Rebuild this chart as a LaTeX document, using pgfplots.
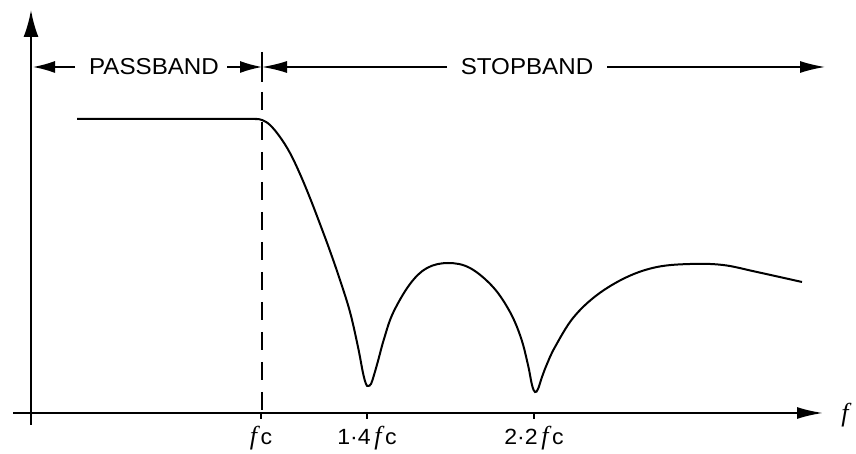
\documentclass[border=0pt]{standalone}
\usepackage{fontspec}
\setmainfont{Liberation Sans}[FakeStretch=1.05]
\newfontfamily\ffont{Liberation Serif}
\newcommand{\fq}{{\ffont\itshape\fontsize{26}{30}\selectfont f}}
\usepackage{pgfplots}
\pgfplotsset{compat=1.18}
\usetikzlibrary{arrows.meta}

\begin{document}
\begin{tikzpicture}
\begin{axis}[
    scale only axis,
    width=856pt, height=454pt,
    xmin=-31, xmax=825,
    ymin=-41, ymax=413,
    axis lines=middle,
    clip=false,
    xtick={230,336,503},
    xticklabels={\fq\,c, 1·4\,\fq\,c, 2·2\,\fq\,c},
    ytick=\empty,
    tick align=outside,
    major tick length=6pt,
    tick style={black, line width=1.6pt},
    xticklabel style={font=\fontsize{22}{26}\selectfont, anchor=north, yshift=-4pt},
    every inner x axis line/.append style={-{Latex[length=26pt,width=12pt]}, shorten <=13pt, shorten >=33pt, line width=2pt},
    every inner y axis line/.append style={-{Latex[length=27pt,width=15pt]}, shorten <=29pt, shorten >=10pt, line width=2.2pt},
]
% response curve, sketched (x = position along f axis, y = height above f axis)
\addplot[black, line width=2pt, smooth, tension=0.6] coordinates {
    (46,294) (209,294) (224,294) (231,293) (239,288) (249,276) (259,260)
    (269,239) (279,215) (289,189) (299,162) (309,133) (319,101) (327,66)
    (332,40) (335,29) (337,27) (340,29) (343,38) (347,52) (353,74)
    (362,100) (379,129) (396,145) (417,150) (439,145) (462,126) (479,101)
    (490,75) (497,48) (501,28) (504,21) (507,24) (511,36) (516,49)
    (524,66) (542,95) (566,118) (596,136) (626,146) (659,149)
    (692,148) (726,141) (771,131)
};
% cut-off marker
\addplot[black, line width=1.5pt] coordinates {(231,361) (231,331)};
\addplot[black, line width=1.5pt, dash pattern=on 18pt off 12pt] coordinates {(231,321) (231,-5)};
% band arrows
\addplot[black, line width=1.5pt, -{Latex[length=22pt,width=12pt]}] coordinates {(44,346) (2,346)};
\addplot[black, line width=1.5pt, -{Latex[length=22pt,width=12pt]}] coordinates {(196,346) (231,346)};
\addplot[black, line width=1.5pt, -{Latex[length=25pt,width=12pt]}] coordinates {(416,346) (231,346)};
\addplot[black, line width=1.5pt, -{Latex[length=25pt,width=12pt]}] coordinates {(576,346) (794,346)};
\node[font=\fontsize{23}{27}\selectfont] at (axis cs:123,346) {PASSBAND};
\node[font=\fontsize{23}{27}\selectfont] at (axis cs:496,346) {STOPBAND};
\node[font=\fontsize{28}{32}\selectfont] at (axis cs:814,-2) {\fq};
\end{axis}
\pgfresetboundingbox
\path (current axis.south west) rectangle (current axis.north east);
\end{tikzpicture}
\end{document}
